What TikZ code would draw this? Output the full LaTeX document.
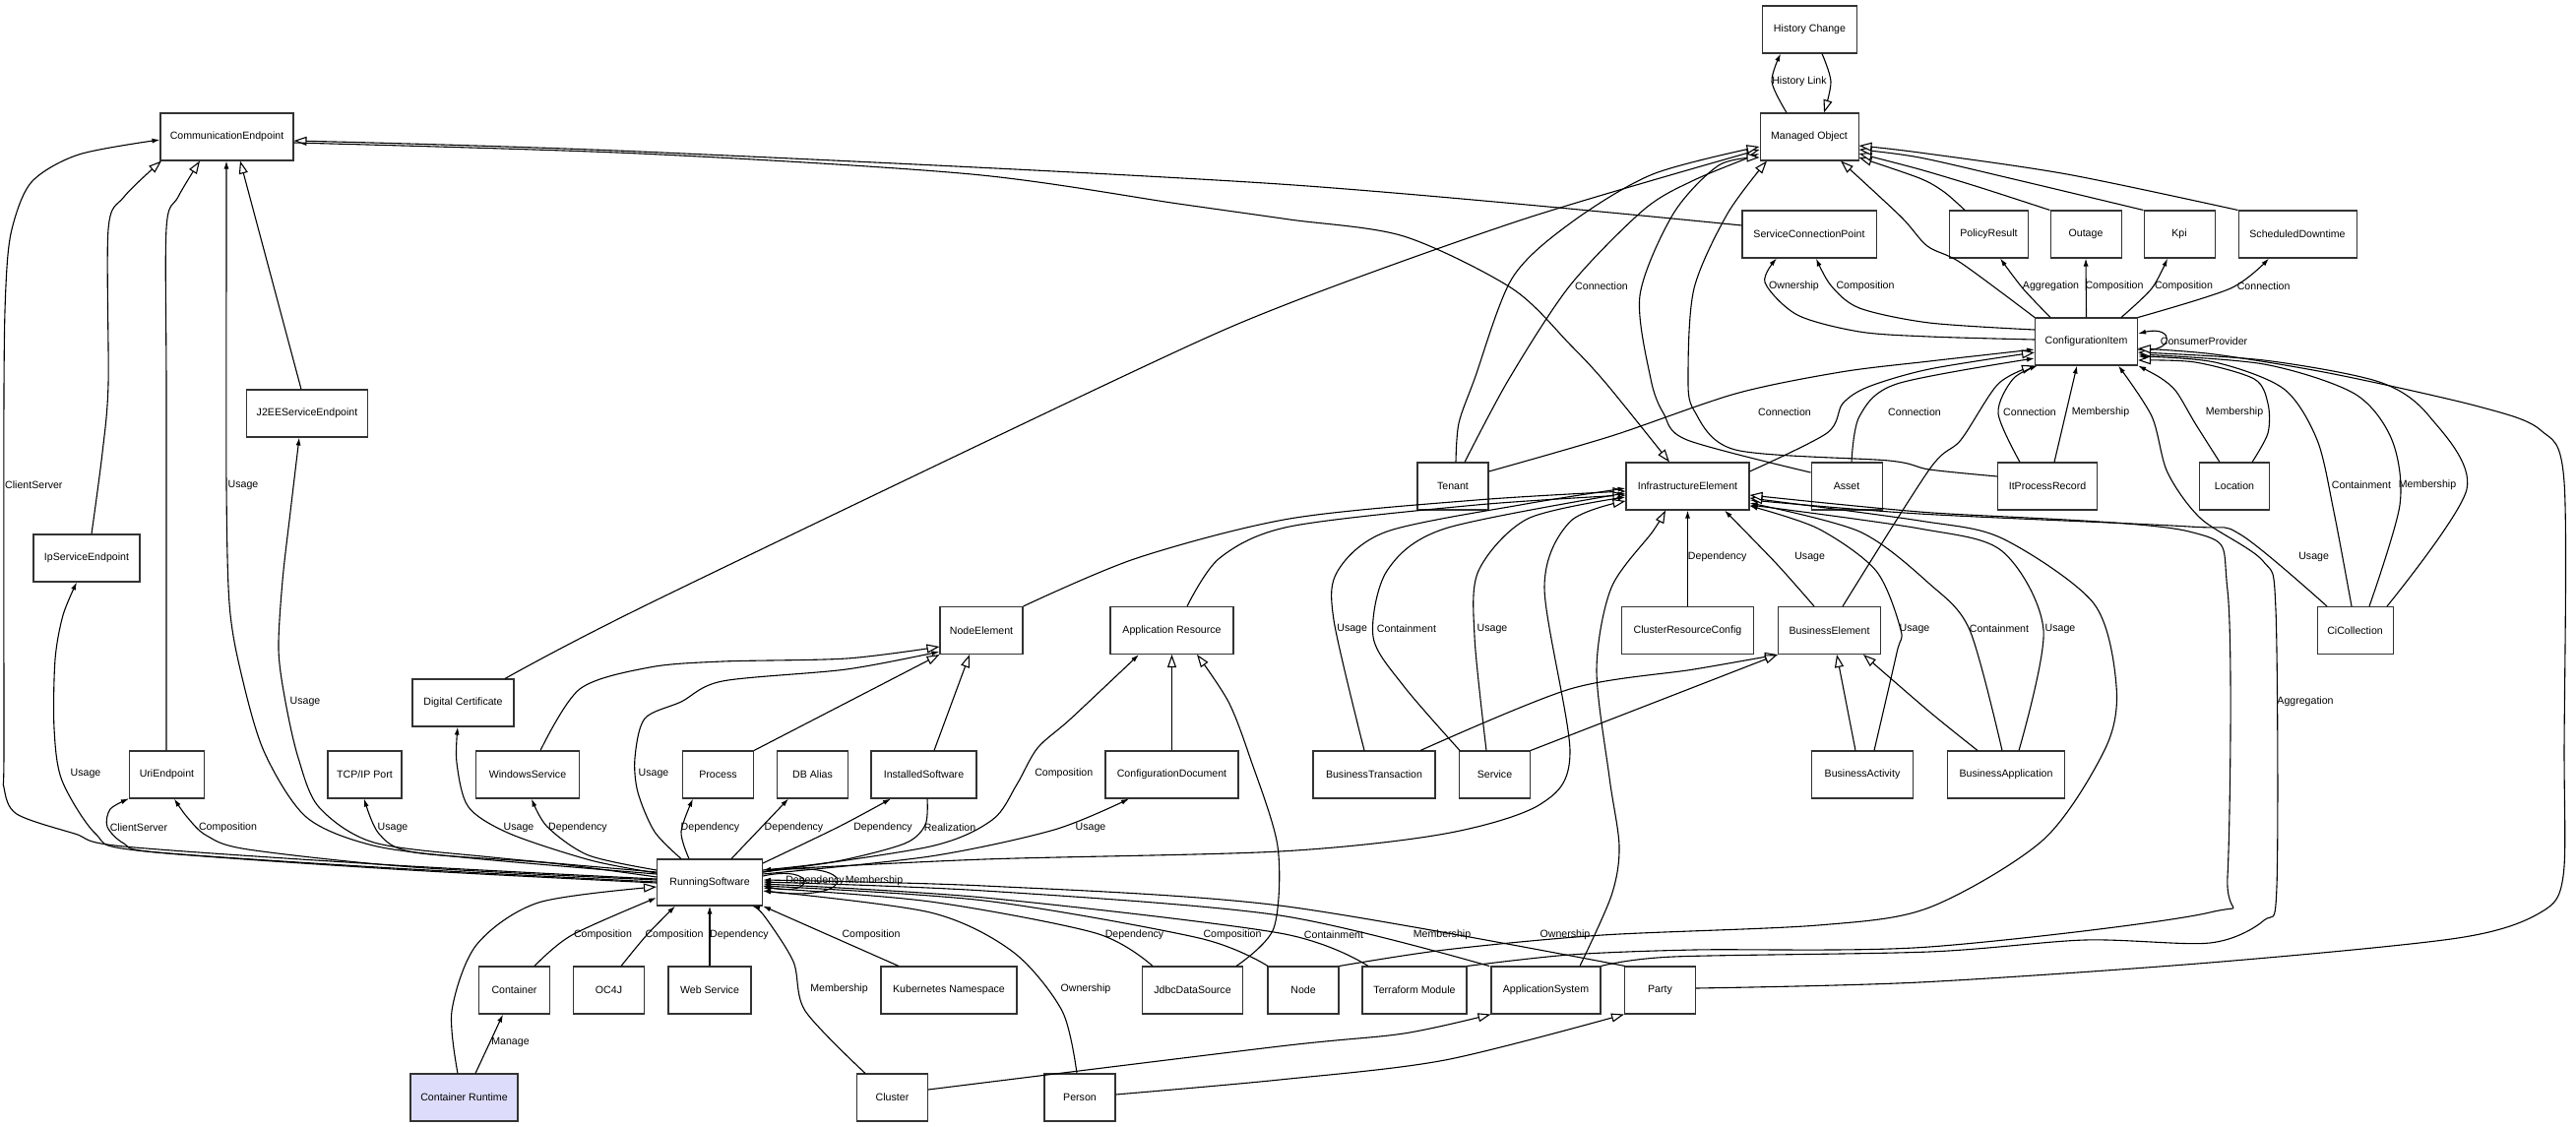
\documentclass[tikz,border=0pt]{standalone}
\usepackage{fontspec}
\setmainfont{Liberation Sans}
\usetikzlibrary{arrows.meta}
\definecolor{crtfill}{RGB}{221,221,251}
\begin{document}
\begin{tikzpicture}[x=1pt,y=-1pt,
  font=\fontsize{10.6}{12}\selectfont,
  box/.style={draw=black!80,line width=1.05pt,fill=white,minimum height=48pt,inner sep=0pt},
  lbl/.style={inner sep=0pt},
  assoc/.style={line width=1.1pt,-{Latex[length=8pt,width=5pt]}},
  gen/.style={line width=1.1pt,-{Triangle[open,length=13pt,width=9pt,fill=white]}}]
\fill[white] (0,0) rectangle (2617,1145);
\useasboundingbox (0,0) rectangle (2617,1145);
% nodes
\node[box,minimum width=96pt] (he) at (1838.5,30) {History Change};
\node[box,minimum width=100pt] (mo) at (1838,139) {Managed Object};
\node[box,minimum width=136pt] (scp) at (1838,238) {ServiceConnectionPoint};
\node[box,minimum width=80pt] (pr) at (2020.5,238) {PolicyResult};
\node[box,minimum width=72pt] (out) at (2119,238) {Outage};
\node[box,minimum width=72pt] (kpi) at (2214,238) {Kpi};
\node[box,minimum width=120pt] (sd) at (2334,238) {ScheduledDowntime};
\node[box,minimum width=104pt] (ci) at (2119.5,347) {ConfigurationItem};
\node[box,minimum width=135pt] (ce) at (230.5,139) {CommunicationEndpoint};
\node[box,minimum width=123pt] (j2ee) at (312,420) {J2EEServiceEndpoint};
\node[box,minimum width=108pt] (ipse) at (88,567) {IpServiceEndpoint};
\node[box,minimum width=103pt] (dc) at (470.5,714) {Digital Certificate};
\node[box,minimum width=84pt] (ne) at (997,640.5) {NodeElement};
\node[box,minimum width=125pt] (ar) at (1190.5,640.5) {Application Resource};
\node[box,minimum width=72pt] (ten) at (1476,494) {Tenant};
\node[box,minimum width=125pt] (ie) at (1714.5,494) {InfrastructureElement};
\node[box,minimum width=72pt] (asset) at (1876,494) {Asset};
\node[box,minimum width=134pt] (crc) at (1714.5,640.5) {ClusterResourceConfig};
\node[box,minimum width=104pt] (be) at (1858.5,640.5) {BusinessElement};
\node[box,minimum width=101pt] (ipr) at (2080,494) {ItProcessRecord};
\node[box,minimum width=71pt] (loc) at (2270,494) {Location};
\node[box,minimum width=77pt] (cic) at (2392.5,640.5) {CiCollection};
\node[box,minimum width=76pt] (uri) at (169.5,787) {UriEndpoint};
\node[box,minimum width=75pt] (tcp) at (370.5,787) {TCP/IP Port};
\node[box,minimum width=105pt] (ws) at (536,787) {WindowsService};
\node[box,minimum width=72pt] (cont) at (522.5,1006) {Container};
\node[box,minimum width=72pt] (oc4j) at (618.5,1006) {OC4J};
\node[box,minimum width=109pt,fill=crtfill] (crt) at (471.5,1115) {Container Runtime};
\node[box,minimum width=72pt] (proc) at (729.5,787) {Process};
\node[box,minimum width=72pt] (dba) at (825.5,787) {DB Alias};
\node[box,minimum width=107pt] (is) at (938.5,787) {InstalledSoftware};
\node[box,minimum width=135pt] (cd) at (1190.5,787) {ConfigurationDocument};
\node[box,minimum width=107pt,minimum height=47pt] (rs) at (721,896.5) {RunningSoftware};
\node[box,minimum width=84pt] (wsv) at (721,1006) {Web Service};
\node[box,minimum width=138pt] (kn) at (964,1006) {Kubernetes Namespace};
\node[box,minimum width=102pt] (jds) at (1211.5,1006) {JdbcDataSource};
\node[box,minimum width=72pt] (clu) at (906.5,1115) {Cluster};
\node[box,minimum width=72pt] (per) at (1097,1115) {Person};
\node[box,minimum width=124pt] (bt) at (1396,787) {BusinessTransaction};
\node[box,minimum width=72pt] (svc) at (1518.5,787) {Service};
\node[box,minimum width=103pt] (bact) at (1892,787) {BusinessActivity};
\node[box,minimum width=119pt] (bapp) at (2038,787) {BusinessApplication};
\node[box,minimum width=72pt] (node) at (1324,1006) {Node};
\node[box,minimum width=106pt] (tf) at (1437,1006) {Terraform Module};
\node[box,minimum width=111pt] (as) at (1570.5,1006) {ApplicationSystem};
\node[box,minimum width=72pt] (party) at (1686.5,1006) {Party};
% edges: CommunicationEndpoint group
\draw[assoc] plot[smooth] coordinates {(rs.west|-0,893) (400,879) (126,860) (76,847) (17,827) (4,800) (4,760) (4,400) (6,290) (12,233) (32,185) (80,157) (ce.west|-0,142)};
\draw[gen] plot[smooth] coordinates {(ipse.north-|93,0) (104,460) (110,390) (110,233) (126,200) (ce.south-|164,0)};
\draw[gen] plot[smooth] coordinates {(uri.north-|169,0) (169,400) (169,232) (181,200) (ce.south-|203,0)};
\draw[assoc] plot[smooth] coordinates {(rs.west|-0,888) (480,872) (379,859) (311,830) (268,763) (244,680) (233,613) (230,493) (230,250) (ce.south-|230,0)};
\draw[gen] (j2ee.north-|306,0) -- (ce.south-|244,0);
\draw[gen] plot[smooth] coordinates {(scp.west|-0,229) (1300,187) (650,154) (ce.east|-0,143)};
\draw[gen] plot[smooth] coordinates {(ce.east|-0,145) (650,156) (987,177) (1197,207) (1310,223) (1426,240) (1536,293) (1595,350) (1632,390) (ie.north-|1696,0)};
\draw[assoc] plot[smooth] coordinates {(rs.west|-0,886) (500,871) (380,856) (324,820) (303,770) (290,713) (283,660) (287,590) (295,520) (j2ee.south-|304,0)};
\draw[assoc] plot[smooth] coordinates {(rs.west|-0,897) (400,883) (139,864) (97,847) (63,793) (55,740) (56,670) (64,625) (ipse.south-|78,0)};
\draw[assoc] plot[smooth] coordinates {(rs.west|-0,896) (400,882) (160,866) (126,857) (109,840) (112,822) (uri.south west)};
\draw[assoc] plot[smooth] coordinates {(rs.west|-0,894) (420,881) (252,863) (210,849) (190,830) (uri.south-|177,0)};
\draw[assoc] plot[smooth] coordinates {(rs.west|-0,891) (560,877) (421,866) (385,847) (tcp.south-|370,0)};
\draw[assoc] plot[smooth] coordinates {(rs.west|-0,887) (600,874) (518,847) (476,820) (464,775) (dc.south-|465,0)};
\draw[assoc] plot[smooth] coordinates {(rs.west|-0,884) (598,869) (556,840) (ws.south-|540,0)};
% NodeElement / RunningSoftware top
\draw[gen] plot[smooth] coordinates {(ws.north-|549,0) (589,700) (660,678) (734,672) (860,669) (ne.west|-0,657)};
\draw[assoc] plot[smooth] coordinates {(rs.north-|692,0) (665,845) (648,805) (645,770) (655,730) (692,713) (734,692) (860,680) (ne.west|-0,662)};
\draw[gen] (proc.north east) -- (ne.south west);
\draw[gen] (is.north-|949,0) -- (ne.south-|985,0);
\draw[assoc] plot[smooth] coordinates {(rs.north-|700,0) (692,845) (proc.south-|704,0)};
\draw[assoc] (rs.north-|743,0) -- (dba.south-|801,0);
\draw[assoc] plot[smooth] coordinates {(rs.east|-0,877) (852,840) (is.south-|905,0)};
\draw[assoc] plot[smooth] coordinates {(is.south-|942,0) (940,838) (919,857) (850,875) (rs.east|-0,884)};
\draw[assoc] plot[smooth] coordinates {(rs.east|-0,886) (945,860) (1008,833) (1033,797) (1054,760) (1088,730) (ar.south-|1157,0)};
\draw[assoc] plot[smooth] coordinates {(rs.east|-0,888) (945,870) (1071,843) (cd.south-|1147,0)};
\draw[gen] (cd.north) -- (ar.south);
\draw[gen] plot[smooth] coordinates {(jds.north-|1256,0) (1294,943) (1298,860) (1270,770) (1248,713) (ar.south-|1216,0)};
\draw[gen] plot[smooth] coordinates {(ne.north east) (1155,567) (1310,527) (1500,508) (ie.west|-0,499)};
\draw[gen] plot[smooth] coordinates {(ar.north-|1206,0) (1239,567) (1310,535) (1500,513) (ie.west|-0,503)};
\draw[gen] plot[smooth] coordinates {(dc.north-|513,0) (660,613) (1146,380) (1310,308) (1550,222) (mo.west|-0,152)};
% Managed Object group
\draw[assoc] plot[smooth] coordinates {(mo.north-|1815,0) (1800,83) (he.south-|1809,0)};
\draw[gen] plot[smooth] coordinates {(he.south-|1851,0) (1860,83) (mo.north-|1853,0)};
\draw[gen] plot[smooth] coordinates {(ci.north west) (1992,267) (1958,250) (1931,220) (mo.south-|1870,0)};
\draw[gen] plot[smooth] coordinates {(pr.north-|1996,0) (1975,195) (1950,181) (mo.east|-0,160)};
\draw[gen] plot[smooth] coordinates {(out.north west) (2010,190) (1950,172) (mo.east|-0,156)};
\draw[gen] plot[smooth] coordinates {(kpi.north west) (2050,183) (1950,160) (mo.east|-0,152)};
\draw[gen] plot[smooth] coordinates {(sd.north west) (2100,177) (1950,155) (mo.east|-0,148)};
\draw[gen] plot[smooth] coordinates {(ten.north-|1479,0) (1482,430) (1498,385) (1536,283) (1595,227) (1679,177) (mo.west|-0,149)};
\draw[assoc] plot[smooth] coordinates {(ten.north-|1488,0) (1533,385) (1595,290) (1670,213) (1721,183) (mo.west|-0,156)};
\draw[gen] plot[smooth] coordinates {(asset.west|-0,480) (1714,447) (1690,420) (1677,385) (1666,300) (1700,217) (1746,168) (mo.west|-0,160)};
\draw[gen] plot[smooth] coordinates {(ipr.west|-0,484) (1960,477) (1919,468) (1763,457) (1721,417) (1715,380) (1721,293) (1755,217) (mo.south-|1795,0)};
% ConfigurationItem group
\draw[assoc] plot[smooth] coordinates {(ci.west|-0,345) (1960,342) (1889,337) (1826,320) (1793,287) (scp.south-|1805,0)};
\draw[assoc] plot[smooth] coordinates {(ci.west|-0,335) (1960,328) (1889,313) (1860,290) (scp.south-|1845,0)};
\draw[assoc] plot[smooth] coordinates {(ci.north-|2083,0) (2055,293) (pr.south-|2032,0)};
\draw[assoc] (ci.north) -- (out.south);
\draw[assoc] plot[smooth] coordinates {(ci.north-|2155,0) (2186,293) (kpi.south-|2202,0)};
\draw[assoc] plot[smooth] coordinates {(ci.north east) (2266,293) (sd.south-|2305,0)};
\draw[assoc] (ci.east|-0,355) .. controls (2210,360) and (2210,330) .. (ci.east|-0,339);
\draw[assoc] plot[smooth] coordinates {(ten.east|-0,479) (1637,443) (1763,400) (1870,378) (1960,367) (ci.west|-0,355)};
\draw[gen] plot[smooth] coordinates {(ie.east|-0,479) (1856,440) (1872,410) (1898,393) (1960,375) (ci.west|-0,358)};
\draw[assoc] plot[smooth] coordinates {(asset.north-|1881,0) (1889,423) (1927,390) (ci.west|-0,364)};
\draw[gen] plot[smooth] coordinates {(be.north-|1872,0) (1960,477) (1992,447) (2030,390) (ci.south west)};
\draw[assoc] plot[smooth] coordinates {(ipr.north-|2052,0) (2030,420) (2045,385) (ci.south-|2070,0)};
\draw[assoc] (ipr.north-|2087,0) -- (ci.south-|2110,0);
\draw[assoc] plot[smooth] coordinates {(loc.north-|2255,0) (2230,430) (2211,398) (2195,384) (ci.south east)};
\draw[gen] plot[smooth] coordinates {(loc.north-|2288,0) (2304,440) (2304,410) (2290,385) (2230,368) (ci.east|-0,366)};
\draw[assoc] plot[smooth] coordinates {(cic.north-|2389,0) (2371,520) (2354,447) (2320,395) (2250,368) (ci.east|-0,362)};
\draw[assoc] plot[smooth] coordinates {(cic.north-|2407,0) (2438,513) (2430,447) (2392,400) (2300,370) (ci.east|-0,360)};
\draw[gen] plot[smooth] coordinates {(cic.north-|2425,0) (2506,497) (2468,423) (2417,388) (2300,366) (ci.east|-0,358)};
\draw[gen] plot[smooth] coordinates {(party.east|-0,1004) (1950,998) (2245,978) (2497,953) (2581,927) (2604,890) (2605,760) (2605,490) (2581,437) (2518,413) (2371,380) (2250,360) (ci.east|-0,354)};
% InfrastructureElement right side
\draw[assoc] plot[smooth] coordinates {(cic.north-|2364,0) (2276,543) (2224,535) (1950,522) (ie.east|-0,508)};
\draw[assoc] plot[smooth] coordinates {(bact.north-|1904,0) (1927,663) (1931,640) (1906,580) (1847,537) (ie.east|-0,514)};
\draw[assoc] plot[smooth] coordinates {(bapp.north-|2034,0) (2001,640) (1960,593) (1889,540) (ie.east|-0,511)};
\draw[assoc] plot[smooth] coordinates {(bapp.north-|2051,0) (2076,640) (2034,560) (1950,537) (ie.east|-0,513)};
\draw[gen] plot[smooth] coordinates {(node.north east) (1468,965) (1628,950) (1847,940) (1960,922) (2076,853) (2139,760) (2150,697) (2127,613) (2034,547) (1950,529) (ie.east|-0,506)};
\draw[gen] plot[smooth] coordinates {(tf.north east) (1595,970) (1721,965) (1960,962) (2245,927) (2263,890) (2263,600) (2224,540) (1950,520) (ie.east|-0,503)};
\draw[assoc] plot[smooth] coordinates {(as.north east) (1700,972) (1960,967) (2118,955) (2245,958) (2300,935) (2313,900) (2312,620) (2299,570) (2236,527) (2202,480) (2186,423) (ci.south-|2152,0)};
\draw[gen] plot[smooth] coordinates {(clu.east|-0,1107) (1300,1063) (1426,1050) (as.south west)};
\draw[gen] plot[smooth] coordinates {(per.east|-0,1112) (1300,1097) (1468,1077) (party.south west)};
\draw[gen] plot[smooth] coordinates {(as.north-|1605,0) (1637,910) (1645,860) (1635,790) (1622,680) (1637,597) (1679,540) (ie.south-|1692,0)};
\draw[assoc] (crc.north) -- (ie.south);
\draw[assoc] plot[smooth] coordinates {(be.north-|1843,0) (1805,573) (ie.south-|1752,0)};
\draw[gen] plot[smooth] coordinates {(bt.north-|1443,0) (1595,700) (1721,680) (be.south west)};
\draw[gen] (svc.north east) -- (be.south west);
\draw[gen] (bact.north-|1885,0) -- (be.south-|1866,0);
\draw[gen] plot[smooth] coordinates {(bapp.north-|2009,0) (1960,723) (be.south-|1893,0)};
\draw[assoc] plot[smooth] coordinates {(bt.north-|1386,0) (1355,630) (1359,580) (1409,540) (1550,512) (ie.west|-0,496)};
\draw[assoc] plot[smooth] coordinates {(svc.north-|1483,0) (1426,697) (1395,647) (1409,580) (1468,537) (ie.west|-0,501)};
\draw[assoc] plot[smooth] coordinates {(svc.north-|1510,0) (1498,647) (1502,580) (1552,527) (ie.west|-0,505)};
\draw[gen] plot[smooth] coordinates {(rs.east|-0,884) (1000,873) (1300,865) (1468,847) (1565,817) (1595,765) (1569,597) (1595,530) (ie.west|-0,509)};
% RunningSoftware bottom
\draw[assoc] plot[smooth] coordinates {(cont.north-|543,0) (581,950) (rs.west|-0,912)};
\draw[gen] plot[smooth] coordinates {(crt.north-|465,0) (459,1027) (484,960) (547,917) (rs.west|-0,901)};
\draw[assoc] (crt.north-|483,0) -- (cont.south-|511,0);
\draw[assoc] plot[smooth] coordinates {(oc4j.north-|631,0) (657,950) (rs.south-|686,0)};
\draw[assoc] (wsv.north) -- (rs.south);
\draw[assoc] plot[smooth] coordinates {(clu.north-|879,0) (818,1027) (806,977) (776,930) (rs.south-|764,0)};
\draw[assoc] (kn.north-|913,0) -- (rs.south east);
\draw[assoc] plot[smooth] coordinates {(per.north-|1094,0) (1079,1027) (1029,967) (945,927) (rs.east|-0,905)};
\draw[assoc] plot[smooth] coordinates {(jds.north-|1171,0) (1113,948) (945,916) (rs.east|-0,902)};
\draw[assoc] plot[smooth] coordinates {(node.north-|1288,0) (1218,953) (1000,915) (rs.east|-0,900)};
\draw[assoc] plot[smooth] coordinates {(tf.north-|1390,0) (1300,948) (1000,912) (rs.east|-0,898)};
\draw[assoc] plot[smooth] coordinates {(as.north-|1513,0) (1300,930) (1000,905) (rs.east|-0,896)};
\draw[assoc] plot[smooth] coordinates {(party.north-|1651,0) (1300,920) (1000,900) (rs.east|-0,894)};
\draw[assoc] (rs.east|-0,890) .. controls (830,878) and (830,912) .. (rs.east|-0,900);
\draw[assoc] (rs.east|-0,886) .. controls (875,870) and (875,918) .. (rs.east|-0,905);
% labels
\node[lbl,anchor=west] (l1) at (5,493) {ClientServer};
\node[lbl] (l2) at (247,493) {Usage};
\node[lbl] (l3) at (310,713) {Usage};
\node[lbl] (l4) at (87,786) {Usage};
\node[lbl] (l5) at (141,841) {ClientServer};
\node[lbl] (l6) at (231.5,841) {Composition};
\node[lbl] (l7) at (399,841) {Usage};
\node[lbl] (l8) at (527,841) {Usage};
\node[lbl] (l9) at (587,841) {Dependency};
\node[lbl] (l10) at (664,786) {Usage};
\node[lbl] (l11) at (721.5,841) {Dependency};
\node[lbl] (l12) at (806.5,841) {Dependency};
\node[lbl] (l13) at (897,841) {Dependency};
\node[lbl] (l14) at (965,841) {Realization};
\node[lbl] (l15) at (1080.7,786) {Composition};
\node[lbl] (l16) at (1108,841) {Usage};
\node[lbl] (l17) at (1828,83) {History Link};
\node[lbl] (l18) at (1627,291) {Connection};
\node[lbl] (l19) at (1822.5,291) {Ownership};
\node[lbl] (l20) at (1895,291) {Composition};
\node[lbl] (l21) at (2083.5,291) {Aggregation};
\node[lbl] (l22) at (2148,291) {Composition};
\node[lbl] (l23) at (2218.5,291) {Composition};
\node[lbl] (l24) at (2299.6,291) {Connection};
\node[lbl] (l25) at (2239,347) {ConsumerProvider};
\node[lbl] (l26) at (1813,419) {Connection};
\node[lbl] (l27) at (1945,419) {Connection};
\node[lbl] (l28) at (2062,419) {Connection};
\node[lbl] (l29) at (2134,419) {Membership};
\node[lbl] (l30) at (2270,419) {Membership};
\node[lbl] (l31) at (2399,493) {Containment};
\node[lbl] (l32) at (2466,493) {Membership};
\node[lbl] (l33) at (1744.7,566) {Dependency};
\node[lbl] (l34) at (1838.6,566) {Usage};
\node[lbl] (l35) at (2350.6,566) {Usage};
\node[lbl] (l36) at (1373.7,639) {Usage};
\node[lbl] (l37) at (1429,639) {Containment};
\node[lbl] (l38) at (1516,639) {Usage};
\node[lbl] (l39) at (1945,639) {Usage};
\node[lbl] (l40) at (2031,639) {Containment};
\node[lbl] (l41) at (2093,639) {Usage};
\node[lbl] (l42) at (2342,713) {Aggregation};
\node[lbl] (l43) at (612.5,950) {Composition};
\node[lbl] (l44) at (518.5,1059) {Manage};
\node[lbl] (l45) at (685,950) {Composition};
\node[lbl] (l46) at (751,950) {Dependency};
\node[lbl] (l47) at (885,950) {Composition};
\node[lbl] (l48) at (852.5,1005) {Membership};
\node[lbl] (l49) at (1103,1005) {Ownership};
\node[lbl] (l50) at (1152.5,950) {Dependency};
\node[lbl] (l51) at (1252,950) {Composition};
\node[lbl] (l52) at (1355,950) {Containment};
\node[lbl] (l53) at (1465,950) {Membership};
\node[lbl] (l54) at (1590,950) {Ownership};
\node[lbl] (l55) at (828,895) {Dependency};
\node[lbl] (l56) at (888,895) {Membership};
\end{tikzpicture}
\end{document}
